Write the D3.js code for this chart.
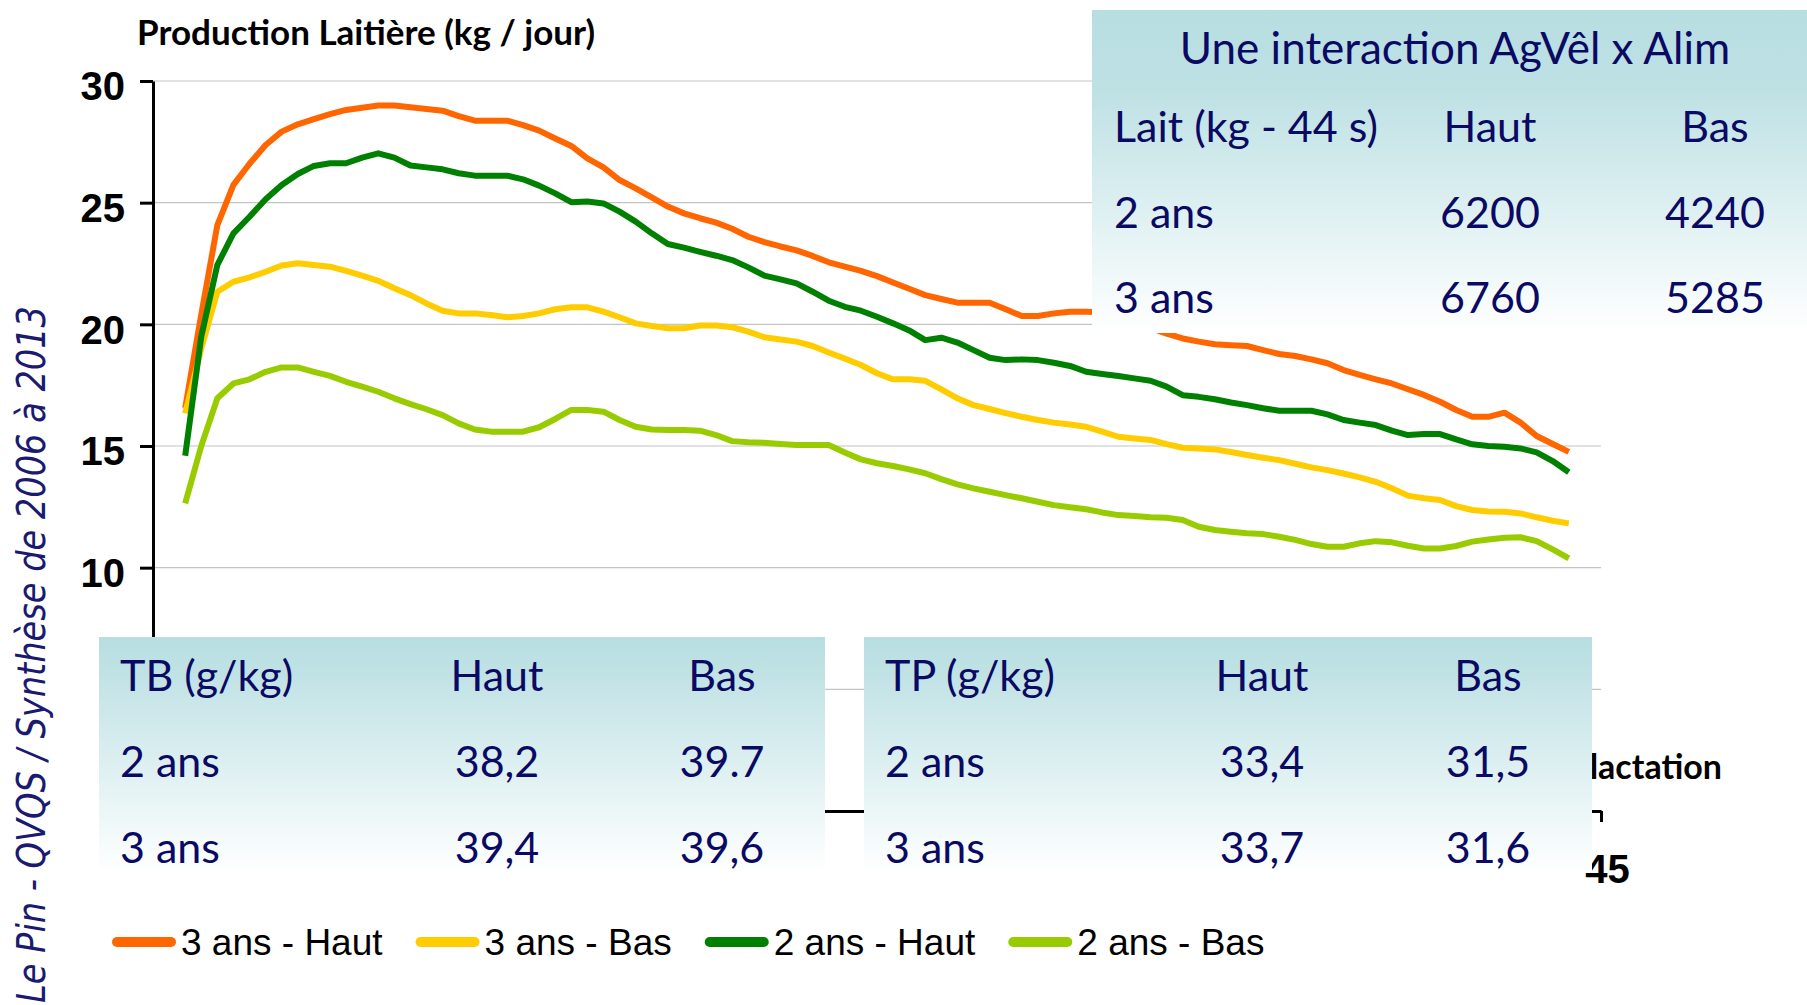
<!DOCTYPE html>
<html><head><meta charset="utf-8">
<title>Production laitière - AgVêl x Alim</title>
<script src="https://cdn.jsdelivr.net/npm/d3@7"></script>
<style>
body {
    margin: 0;
    background-color: #fff;
}

svg {
    display: block;
}

.titre {
    font: bold 35px Lato, sans-serif;
    fill: #000;
}

.titre-x {
    font: bold 34px Lato, sans-serif;
    fill: #000;
}

.axe-y text, .axe-x text {
    font: bold 40px "Liberation Sans", Arial, sans-serif;
    fill: #000;
}

.axe-y path, .axe-y line, .axe-x path, .axe-x line {
    stroke: #000;
    stroke-width: 3px;
}

.grille {
    stroke: #c4c4c4;
    stroke-width: 1.2px;
}

.courbe {
    fill: none;
    stroke-width: 6px;
    stroke-linejoin: round;
}

.tableau text {
    font: 43px Lato, sans-serif;
    fill: #0a0a64;
}

.tableau text.entete-titre {
    font-size: 44px;
}

.legende text {
    font: 37px "Liberation Sans", Arial, sans-serif;
    fill: #000;
}

.source {
    font: italic 30px "DejaVu Sans", Verdana, sans-serif;
    fill: #1a1a70;
}
</style>
</head>
<body>
<svg id="chart" width="1807" height="1005"></svg>

<script>
// semaines de lactation (un relevé toutes les demi-semaines, de 1 à 44)
const semaines = d3.range(1, 44.5, 0.5);

const troisAnsHaut = [16.56, 20.4, 24.08, 25.73, 26.6, 27.37, 27.92, 28.22, 28.43, 28.64,
    28.81, 28.9, 28.99, 28.99, 28.92, 28.85, 28.78, 28.56, 28.37, 28.37,
    28.37, 28.19, 27.96, 27.64, 27.33, 26.82, 26.45, 25.93, 25.59, 25.22,
    24.84, 24.56, 24.36, 24.18, 23.93, 23.6, 23.38, 23.2, 23.04, 22.81,
    22.55, 22.37, 22.2, 21.98, 21.72, 21.46, 21.2, 21.04, 20.89, 20.89,
    20.89, 20.62, 20.34, 20.34, 20.45, 20.52, 20.52, 20.5, 20.35, 20.1,
    19.85, 19.62, 19.42, 19.29, 19.18, 19.14, 19.11, 18.94, 18.78, 18.7,
    18.56, 18.4, 18.12, 17.92, 17.74, 17.57, 17.33, 17.1, 16.82, 16.48,
    16.2, 16.2, 16.37, 15.96, 15.41, 15.08, 14.76];

const troisAnsBas = [16.34, 19.0, 21.34, 21.75, 21.93, 22.16, 22.42, 22.51, 22.44, 22.37,
    22.2, 22.0, 21.79, 21.48, 21.2, 20.86, 20.56, 20.45, 20.45, 20.38,
    20.29, 20.34, 20.45, 20.62, 20.7, 20.7, 20.52, 20.29, 20.04, 19.93,
    19.84, 19.84, 19.95, 19.95, 19.88, 19.7, 19.47, 19.38, 19.29, 19.11,
    18.84, 18.59, 18.33, 17.99, 17.74, 17.74, 17.68, 17.33, 16.96, 16.68,
    16.52, 16.35, 16.2, 16.07, 15.96, 15.88, 15.79, 15.59, 15.38, 15.31,
    15.25, 15.08, 14.93, 14.9, 14.86, 14.75, 14.63, 14.52, 14.42, 14.27,
    14.12, 14.01, 13.87, 13.71, 13.53, 13.26, 12.96, 12.85, 12.78, 12.53,
    12.37, 12.31, 12.3, 12.23, 12.07, 11.93, 11.82];

const deuxAnsHaut = [14.6, 19.5, 22.44, 23.74, 24.42, 25.14, 25.73, 26.18, 26.51, 26.62,
    26.62, 26.85, 27.03, 26.85, 26.53, 26.45, 26.37, 26.21, 26.11, 26.11,
    26.11, 25.96, 25.7, 25.38, 25.02, 25.05, 24.97, 24.63, 24.22, 23.74,
    23.3, 23.15, 22.98, 22.82, 22.64, 22.34, 22.0, 21.85, 21.68, 21.34,
    20.97, 20.72, 20.56, 20.31, 20.04, 19.75, 19.35, 19.45, 19.25, 18.94,
    18.63, 18.53, 18.56, 18.53, 18.42, 18.29, 18.05, 17.96, 17.88, 17.78,
    17.68, 17.44, 17.09, 17.02, 16.92, 16.79, 16.68, 16.55, 16.45, 16.45,
    16.45, 16.3, 16.07, 15.96, 15.86, 15.63, 15.45, 15.49, 15.49, 15.27,
    15.07, 15.0, 14.97, 14.9, 14.74, 14.38, 13.92];

const deuxAnsBas = [12.64, 15.0, 16.96, 17.57, 17.74, 18.05, 18.23, 18.23, 18.05, 17.88,
    17.64, 17.44, 17.23, 16.96, 16.72, 16.51, 16.27, 15.93, 15.68, 15.59,
    15.59, 15.59, 15.77, 16.11, 16.48, 16.48, 16.41, 16.07, 15.79, 15.68,
    15.66, 15.66, 15.63, 15.45, 15.2, 15.15, 15.13, 15.08, 15.04, 15.04,
    15.04, 14.73, 14.45, 14.29, 14.18, 14.04, 13.88, 13.64, 13.42, 13.26,
    13.12, 12.98, 12.85, 12.71, 12.57, 12.48, 12.4, 12.27, 12.16, 12.12,
    12.07, 12.05, 11.96, 11.68, 11.55, 11.48, 11.41, 11.38, 11.27, 11.14,
    10.97, 10.86, 10.86, 11.0, 11.09, 11.04, 10.9, 10.79, 10.79, 10.89,
    11.07, 11.16, 11.23, 11.25, 11.09, 10.75, 10.38];

const seriesNoms = ["3 ans - Haut", "3 ans - Bas", "2 ans - Haut", "2 ans - Bas"];
const seriesValeurs = [troisAnsHaut, troisAnsBas, deuxAnsHaut, deuxAnsBas];
const seriesCouleurs = ["#ff6600", "#ffcc00", "#008000", "#99cc00"];

const yTicks = [10, 15, 20, 25, 30];
const grilleY = [5, 10, 15, 20, 25, 30];
const xTicks = [45];

// petits tableaux posés sur le graphique
const laitTitre = "Une interaction AgVêl x Alim";
const laitEntete = ["Lait (kg - 44 s)", "Haut", "Bas"];
const laitLignes = [["2 ans", "6200", "4240"], ["3 ans", "6760", "5285"]];
const tbEntete = ["TB (g/kg)", "Haut", "Bas"];
const tbLignes = [["2 ans", "38,2", "39.7"], ["3 ans", "39,4", "39,6"]];
const tpEntete = ["TP (g/kg)", "Haut", "Bas"];
const tpLignes = [["2 ans", "33,4", "31,5"], ["3 ans", "33,7", "31,6"]];

const svg = d3.select("#chart");

const x = d3.scaleLinear().domain([0, 45]).range([153, 1601]);
const y = d3.scaleLinear().domain([0, 30]).range([811, 81]);

// degradé des tableaux
const defs = svg.append("defs");
function degrade(id, tenue) {
    const g = defs.append("linearGradient").attr("id", id)
        .attr("x1", 0).attr("y1", 0).attr("x2", 0).attr("y2", 1);
    g.append("stop").attr("offset", 0).attr("stop-color", "#b8dee2");
    g.append("stop").attr("offset", tenue).attr("stop-color", "#bee1e4");
    g.append("stop").attr("offset", 1).attr("stop-color", "#ffffff");
}
degrade("degradeHaut", 0.25);
degrade("degradeBas", 0.12);

// grille
svg.append("g").selectAll("line")
    .data(grilleY)
    .join("line")
    .attr("class", "grille")
    .attr("x1", x(0)).attr("x2", x(45))
    .attr("y1", d => y(d)).attr("y2", d => y(d));

// axes
const axeY = svg.append("g")
    .attr("class", "axe-y")
    .attr("transform", "translate(" + x(0) + ",0)")
    .call(d3.axisLeft(y).tickValues(yTicks).tickSize(13).tickSizeOuter(0).tickPadding(15));
axeY.selectAll("text").attr("dy", "0.47em");

const axeX = svg.append("g")
    .attr("class", "axe-x")
    .attr("transform", "translate(0," + y(0) + ")")
    .call(d3.axisBottom(x).tickValues(xTicks).tickSize(11).tickSizeOuter(0).tickPadding(33));
axeX.selectAll("text").attr("dx", "0.15em");

// courbes
const ligne = d3.line()
    .x((d, i) => x(semaines[i]))
    .y(d => y(d));

svg.append("g").selectAll("path")
    .data(seriesValeurs)
    .join("path")
    .attr("class", "courbe")
    .attr("stroke", (d, i) => seriesCouleurs[i])
    .attr("d", ligne);

// titres (seule la fin du titre de l'axe x dépasse du tableau TP)
svg.append("text")
    .attr("class", "titre")
    .attr("x", 137).attr("y", 45)
    .text("Production Laitière (kg / jour)");

svg.append("text")
    .attr("class", "titre-x")
    .attr("x", 1722).attr("y", 779)
    .attr("text-anchor", "end")
    .text("lactation");

// tableaux
function tableau(box, entete, lignes, titre) {
    const g = svg.append("g").attr("class", "tableau");
    g.append("rect")
        .attr("x", box.x).attr("y", box.y)
        .attr("width", box.w).attr("height", box.h)
        .attr("fill", "url(#" + box.fond + ")");
    if (titre) {
        g.append("text")
            .attr("class", "entete-titre")
            .attr("x", box.titreX).attr("y", box.titreY)
            .attr("text-anchor", "middle")
            .text(titre);
    }
    [entete].concat(lignes).forEach((ligne, r) => {
        ligne.forEach((cell, c) => {
            g.append("text")
                .attr("x", c === 0 ? box.col0 : box.cols[c - 1])
                .attr("y", box.lignesY[r])
                .attr("text-anchor", c === 0 ? "start" : "middle")
                .text(cell);
        });
    });
}

tableau({x: 1092, y: 10, w: 715, h: 323, fond: "degradeHaut", titreX: 1455, titreY: 64,
         col0: 1114, cols: [1490, 1715], lignesY: [142, 228, 313]},
        laitEntete, laitLignes, laitTitre);

tableau({x: 99, y: 637, w: 726, h: 236, fond: "degradeBas",
         col0: 120, cols: [497, 722], lignesY: [691, 777, 863]},
        tbEntete, tbLignes);

tableau({x: 864, y: 637, w: 728, h: 236, fond: "degradeBas",
         col0: 885, cols: [1262, 1488], lignesY: [691, 777, 863]},
        tpEntete, tpLignes);

// legende
const legende = svg.append("g").attr("class", "legende");
let lx = 112;
seriesNoms.forEach((nom, i) => {
    legende.append("line")
        .attr("x1", lx + 5).attr("x2", lx + 59)
        .attr("y1", 942).attr("y2", 942)
        .attr("stroke", seriesCouleurs[i])
        .attr("stroke-width", 10)
        .attr("stroke-linecap", "round");
    const t = legende.append("text")
        .attr("x", lx + 69).attr("y", 955)
        .text(nom);
    lx += 69 + t.node().getComputedTextLength() + 33;
});

// source, verticale a gauche
svg.append("text")
    .attr("class", "source")
    .attr("transform", "translate(44.6,1003) rotate(-90) scale(1,1.3)")
    .attr("textLength", 697)
    .attr("lengthAdjust", "spacingAndGlyphs")
    .text("Le Pin - QVQS / Synthèse de 2006 à 2013");
</script>
</body>
</html>
